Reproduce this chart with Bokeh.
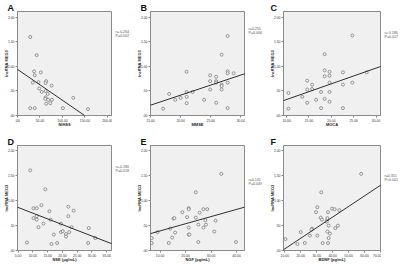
from bokeh.plotting import figure
from bokeh.layouts import gridplot
from bokeh.models import Slope, FixedTicker, Range1d
from bokeh.core.properties import value
from bokeh.embed import file_html
from bokeh.resources import INLINE

# ---------------- data ----------------
panel_letters = ["A", "B", "C", "D", "E", "F"]
x_titles = ["NIHSS", "MMSE", "MOCA", "NSE (\u03bcg/mL)", "NGF (pg/mL)", "BDNF (pg/mL)"]
y_title = "lncRNA MEG3"
stat_texts = ["r=-0.264\nP=0.002", "r=0.255\nP=0.006", "r= 0.186\nP=0.017",
              "r=-0.180\nP=0.018", "r=0.131\nP=0.049", "r=0.351\nP<0.001"]

a_x = [28.4, 42.6, 36.9, 38.3, 51.8, 34.0, 46.8, 63.8, 62.4, 75.9, 48.2, 62.4, 53.9, 67.4, 62.4,
       61.7, 68.1, 76.6, 73.0, 63.8, 124.0, 28.4, 38.3, 101.0, 156.7]
a_y = [1.60, 1.23, 0.90, 0.82, 0.88, 0.67, 0.68, 0.70, 0.66, 0.61, 0.55, 0.50, 0.48, 0.44, 0.37,
       0.34, 0.32, 0.32, 0.25, 0.24, 0.36, 0.15, 0.15, 0.15, 0.13]

b_x = [27.8, 26.8, 21.0, 24.9, 27.8, 27.8, 28.8, 24.9, 25.9, 25.9, 25.9, 26.8, 26.8, 27.8, 24.9,
       26.8, 22.0, 21.0, 18.1, 21.0, 20.0, 19.1, 23.9, 21.0, 25.9, 17.1, 27.8]
b_y = [1.62, 1.24, 0.89, 0.82, 0.90, 0.86, 0.86, 0.70, 0.79, 0.70, 0.67, 0.63, 0.60, 0.67, 0.53,
       0.53, 0.48, 0.48, 0.44, 0.38, 0.36, 0.32, 0.32, 0.25, 0.26, 0.14, 0.15]

c_x = [24.7, 18.5, 18.5, 19.6, 18.5, 19.6, 22.6, 27.9, 14.6, 15.7, 19.6, 22.6, 24.7, 14.6, 15.7,
       10.4, 17.7, 19.6, 13.5, 16.6, 18.5, 14.6, 19.6, 10.4, 17.7, 22.6]
c_y = [1.63, 1.25, 0.92, 0.89, 0.80, 0.81, 0.88, 0.88, 0.71, 0.63, 0.67, 0.63, 0.67, 0.53, 0.54,
       0.46, 0.48, 0.48, 0.38, 0.32, 0.34, 0.26, 0.28, 0.14, 0.15, 0.15]

d_x = [9.1, 14.2, 12.9, 10.2, 11.3, 15.6, 22.0, 23.8, 22.0, 11.3, 10.2, 11.3, 16.0, 13.6, 19.5,
       11.9, 23.1, 28.9, 17.1, 19.5, 20.1, 21.2, 21.2, 22.3, 8.0, 16.3, 18.2, 28.7, 31.1]
d_y = [1.61, 1.23, 0.91, 0.85, 0.85, 0.79, 0.88, 0.80, 0.69, 0.69, 0.65, 0.62, 0.62, 0.54, 0.54,
       0.47, 0.47, 0.45, 0.32, 0.37, 0.39, 0.33, 0.28, 0.37, 0.16, 0.13, 0.15, 0.15, 0.25]

e_x = [34.0, 24.0, 18.75, 21.25, 21.25, 20.6, 15.25, 15.6, 25.5, 27.0, 28.5, 24.0, 27.75, 31.75,
       21.25, 25.0, 27.0, 28.0, 14.0, 9.0, 15.9, 14.75, 21.25, 21.5, 31.25, 6.75, 6.75, 13.4, 25.0, 39.75]
e_y = [1.54, 1.17, 0.77, 0.85, 0.83, 0.67, 0.64, 0.65, 0.76, 0.83, 0.83, 0.66, 0.61, 0.60,
       0.46, 0.52, 0.46, 0.52, 0.44, 0.37, 0.36, 0.26, 0.32, 0.32, 0.38, 0.25, 0.15, 0.15, 0.17, 0.17]

f_x = [57.9, 32.9, 30.4, 29.6, 37.1, 39.6, 41.25, 44.2, 32.5, 33.3, 36.7, 36.7, 36.25, 37.5, 43.3,
       41.7, 20.0, 27.1, 26.7, 36.7, 38.3, 37.5, 25.8, 30.4, 10.4, 17.9, 22.5, 33.75, 37.1]
f_y = [1.54, 1.17, 0.87, 0.77, 0.77, 0.84, 0.83, 0.81, 0.66, 0.62, 0.62, 0.65, 0.58, 0.50, 0.50,
       0.45, 0.37, 0.44, 0.42, 0.38, 0.34, 0.25, 0.30, 0.30, 0.23, 0.13, 0.15, 0.15, 0.15]

# linear fit lines (intercept, slope)
fit_intercepts = [0.94, -0.405, 0.006, 0.98, 0.25, -0.18]
fit_slopes = [-0.0063, 0.041, 0.032, -0.023, 0.0144, 0.0213]

x_ticks = [[0, 50, 100, 150, 200], [15, 20, 25, 30], [10, 15, 20, 25, 30],
           [5, 10, 15, 20, 25, 30, 35], [10, 20, 30, 40], [10, 20, 30, 40, 50, 60, 70]]
y_ticks = [0, 0.5, 1.0, 1.5, 2.0]

# ---------------- layout / style ----------------
x_ranges = [(0, 209), (15, 30.6), (9.3, 31), (4.8, 36.6), (6.25, 43.1), (9.2, 70)]
y_ranges = [(0, 2.12)] * 3 + [(0, 2.11)] * 3
stat_y_px = [18, 15, 19, 19, 32, 28]   # px below frame top
xs_all = [a_x, b_x, c_x, d_x, e_x, f_x]
ys_all = [a_y, b_y, c_y, d_y, e_y, f_y]

FONT = "Liberation Sans"
W, H = 133, 132
FRAME_W = 98
X_LBL_SO = -3
Y_LBL_SO = -4


def fmt(v):
    s = "%.2f" % v
    return s[1:] if s.startswith("0.") else s


def style_axis(ax, so):
    ax.axis_line_color = "#8a8a8a"
    ax.major_tick_line_color = "#8a8a8a"
    ax.minor_tick_line_color = None
    ax.major_tick_in = 0
    ax.major_tick_out = 2
    ax.major_label_standoff = 1
    ax.major_label_text_font = FONT
    ax.major_label_text_font_size = "3.4px"
    ax.major_label_text_color = "#333333"
    ax.axis_label_text_font = FONT
    ax.axis_label_text_font_size = "4px"
    ax.axis_label_text_font_style = "bold"
    ax.axis_label_text_color = "#222222"
    ax.axis_label_standoff = so


rows = [[], []]
for i in range(6):
    row = i // 3
    top = 11 if row == 0 else 13
    bottom = 17 if row == 0 else 14
    left = 13 if i % 3 != 2 else 16
    right = 1
    main_w = left + FRAME_W + right
    side_w = W - main_w
    x0, x1 = x_ranges[i]
    y0, y1 = y_ranges[i]
    yr = Range1d(y0, y1)
    p = figure(width=main_w, height=H, x_range=(x0, x1), y_range=yr,
               output_backend="svg", toolbar_location=None,
               min_border_left=left, min_border_right=right,
               min_border_top=top, min_border_bottom=bottom)
    p.background_fill_color = "#f0f0f0"
    p.border_fill_color = "white"
    p.outline_line_color = "#8a8a8a"
    p.outline_line_width = 1
    p.grid.visible = False

    p.title.text = panel_letters[i]
    p.title.text_font = FONT
    p.title.text_font_size = "9px"
    p.title.text_font_style = "bold"
    p.title.text_color = "#111111"
    p.title.align = "left"
    p.title.offset = -(left - 3)
    p.title.standoff = -3

    style_axis(p.xaxis[0], X_LBL_SO)
    style_axis(p.yaxis[0], Y_LBL_SO)

    p.xaxis.ticker = FixedTicker(ticks=x_ticks[i])
    p.xaxis.major_label_overrides = {t: fmt(t) for t in x_ticks[i]}
    p.yaxis.ticker = FixedTicker(ticks=y_ticks)
    p.yaxis.major_label_overrides = {t: fmt(t) for t in y_ticks}
    p.xaxis.axis_label = x_titles[i]
    p.yaxis.axis_label = y_title

    p.scatter(xs_all[i], ys_all[i], size=3.0, marker="circle",
              fill_color="#f4f4f4", line_color="#6e6e6e", line_width=0.7)
    p.add_layout(Slope(gradient=fit_slopes[i], y_intercept=fit_intercepts[i],
                       line_color="#1a1a1a", line_width=0.9))

    # side panel holding the r / P text, sharing the y scale
    s = figure(width=side_w, height=H, x_range=(0, side_w), y_range=yr,
               output_backend="svg", toolbar_location=None,
               min_border_left=0, min_border_right=0,
               min_border_top=top, min_border_bottom=bottom)
    s.grid.visible = False
    s.yaxis.visible = False
    s.outline_line_color = None
    s.background_fill_color = "white"
    s.border_fill_color = "white"
    s.title.text = " "
    s.title.text_font_size = "9px"
    s.title.standoff = -3
    style_axis(s.xaxis[0], X_LBL_SO)
    s.xaxis.ticker = FixedTicker(ticks=[1])
    s.xaxis.axis_label = " "
    s.xaxis.axis_line_color = None
    s.xaxis.major_tick_line_color = None
    s.xaxis.major_label_text_color = None
    dy = (y1 - y0) / (H - top - bottom)
    s.text(x=[3], y=[y1 - stat_y_px[i] * dy], text=[stat_texts[i]],
           text_font=value(FONT), text_font_size="3.6px", text_color="#555555",
           text_baseline="top", text_align="left", text_line_height=1.1)
    rows[row].extend([p, s])

grid = gridplot(rows, toolbar_location=None)

open("out.html", "w").write(file_html(grid, INLINE))
